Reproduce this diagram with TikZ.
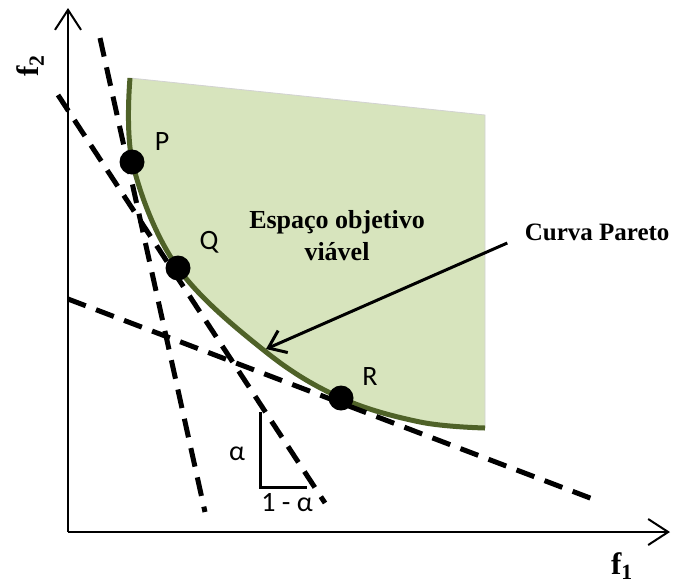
\documentclass[tikz,border=0pt]{standalone}
\usepackage{fontspec}
\setmainfont{Liberation Serif}
\newfontfamily\calib{Carlito}
\usetikzlibrary{arrows.meta}

\definecolor{viavel}{HTML}{D7E4BD}
\definecolor{pareto}{HTML}{4F6228}
\def\fronteira{(130,78) (133,165) (178,268) (266,352) (341,398) (420,422) (485,428)}

\begin{document}
\begin{tikzpicture}[x=1pt,y=-1pt,
  tangente/.style={line width=5pt,dash pattern=on 19pt off 11pt},
  ponto/.style={circle,fill=black,inner sep=0pt,minimum size=25pt},
  rotulo/.style={font=\fontsize{28}{32}\selectfont\calib},
  titulo/.style={font=\fontsize{26}{32}\selectfont\bfseries,align=center}]
 \useasboundingbox (0,0) rectangle (674,584);
 % regiao viavel e curva de Pareto
 \fill[viavel] plot[smooth,tension=0.6] coordinates {\fronteira} -- (485,115) -- cycle;
 \draw[gray!35,line width=0.8pt] (130,78) -- (485,115) -- (485,428);
 \draw[pareto,line width=5pt] plot[smooth,tension=0.6] coordinates {\fronteira};
 % eixos
 \coordinate (o) at (68,532);
 \draw[line width=2pt,-{Straight Barb[length=20pt,width=26pt,line width=2pt]}] (o) -- (68,8);
 \draw[line width=2pt,-{Straight Barb[length=20pt,width=26pt,line width=2pt]}] (o) -- (670,532);
 \node[font=\fontsize{31}{31}\selectfont\bfseries,rotate=90] (f2) at (30,66) {f\textsubscript{2}};
 \node[font=\fontsize{31}{31}\selectfont\bfseries] (f1) at (622,566) {f\textsubscript{1}};
 % retas tangentes
 \draw[tangente] (100,38) -- (205,512);
 \draw[tangente] (58,95) -- (325,503);
 \draw[tangente] (68,299) -- (598,501);
 % pontos
 \foreach \p/\x/\y/\lx/\ly in {P/132/162/162/142,Q/178/268/209/242,R/341/398/370/377}{
  \node[ponto] (\p) at (\x,\y) {};
  \node[rotulo] (lbl\p) at (\lx,\ly) {\p};
 }
 % inclinacao
 \draw[line width=3pt] (260,412) -- (260,487) -- (307,487);
 \node[rotulo] (alfa) at (237,454) {α};
 \node[rotulo] (umalfa) at (287,503) {1 - α};
 % textos
 \node[titulo] (esp) at (337,236) {Espaço objetivo\\viável};
 \node[titulo,font=\fontsize{25}{30}\selectfont\bfseries,anchor=east] (cp) at (673,232) {Curva Pareto};
 \coordinate (tip) at (266,349);
 \draw[line width=3pt,-{Straight Barb[length=16pt,width=24pt,line width=3pt]}] ([shift={(-14,11)}]cp.west) -- (tip);
\end{tikzpicture}
\end{document}
